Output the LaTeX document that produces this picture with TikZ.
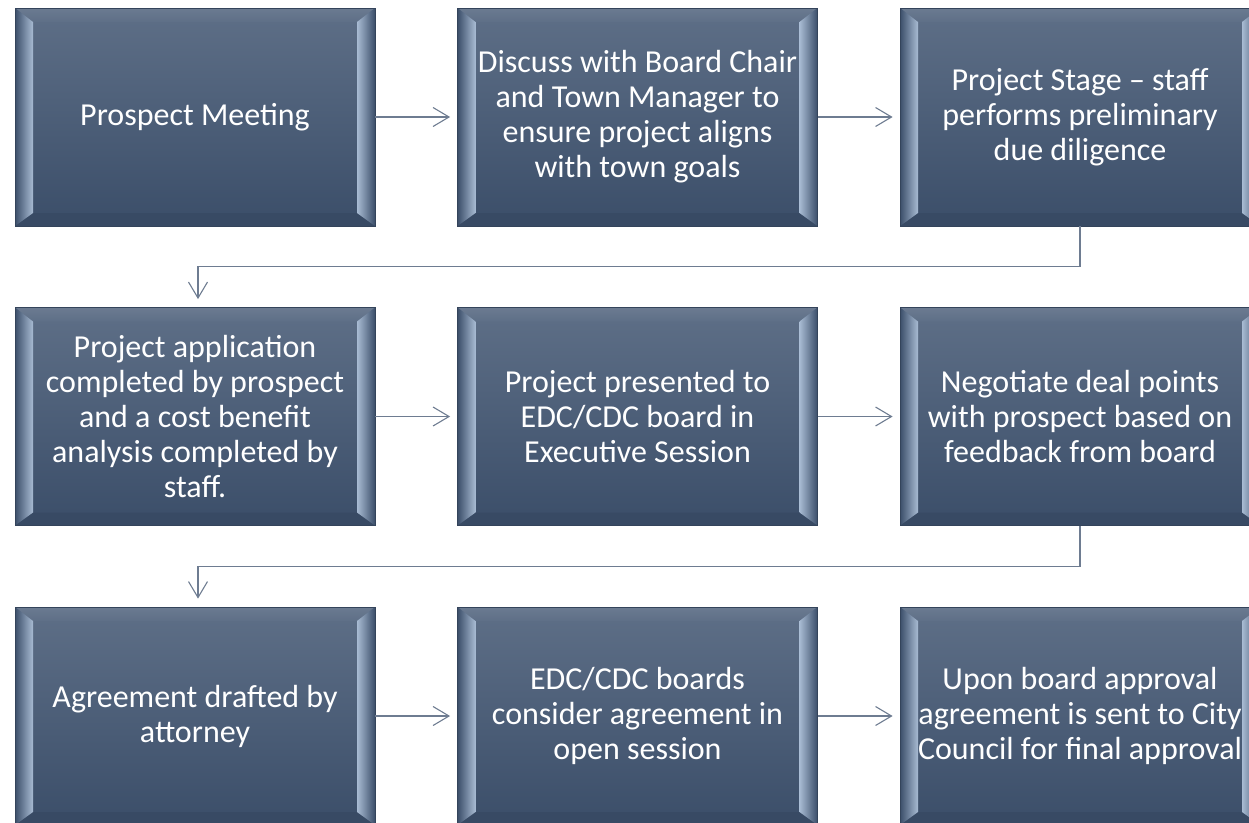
\documentclass[tikz,border=0pt]{standalone}
\usepackage{fontspec}
\setmainfont{Carlito}
\usetikzlibrary{arrows.meta,calc,positioning}
\definecolor{slatetop}{HTML}{5E6F87}
\definecolor{slatebot}{HTML}{3B4E69}
\definecolor{slateedge}{HTML}{34445B}
\definecolor{bevellight}{HTML}{A8BBD3}
\definecolor{linkgray}{HTML}{6E7C91}

\begin{document}
\begin{tikzpicture}[x=1pt,y=-1pt,>={Straight Barb[length=16pt,width=19pt]}]
\tikzset{stagebox/.style={rectangle, minimum width=360pt, minimum height=218pt,
    top color=slatetop, bottom color=slatebot, draw=slateedge, line width=0.8pt,
    text=white, align=center, font=\fontsize{32}{35}\selectfont,
    path picture={
      \coordinate (nw) at (path picture bounding box.north west);
      \coordinate (ne) at (path picture bounding box.north east);
      \coordinate (sw) at (path picture bounding box.south west);
      \coordinate (se) at (path picture bounding box.south east);
      \coordinate (inw) at ([xshift=18pt,yshift=-14pt]nw);
      \coordinate (ine) at ([xshift=-18pt,yshift=-14pt]ne);
      \coordinate (isw) at ([xshift=18pt,yshift=13pt]sw);
      \coordinate (ise) at ([xshift=-18pt,yshift=13pt]se);
      \shade[top color=slatetop!92!white, bottom color=slatetop] (nw) -- (ne) -- (ine) -- (inw) -- cycle;
      \fill[slatebot!95!black] (sw) -- (se) -- (ise) -- (isw) -- cycle;
      \shade[left color=slatebot, right color=bevellight] (nw) -- (inw) -- (isw) -- (sw) -- cycle;
      \shade[left color=bevellight, right color=slatebot] (ne) -- (ine) -- (ise) -- (se) -- cycle;
    }},
  link/.style={->, draw=linkgray, line width=1.1pt, shorten >=7pt}}
\useasboundingbox (0,0) rectangle (1249,822);
% First row
\node[stagebox] (meet) at (195,117) {Prospect Meeting};
\node[stagebox] (chair) at (637.5,117) {Discuss with Board Chair\\and Town Manager to\\ensure project aligns\\with town goals};
\node[stagebox] (stage) at (1080,117) {Project Stage -- staff\\performs preliminary\\due diligence};
% Second row
\node[stagebox] (apply) at (195,416.5) {Project application\\completed by prospect\\and a cost benefit\\analysis completed by\\staff.};
\node[stagebox] (present) at (637.5,416.5) {Project presented to\\EDC/CDC board in\\Executive Session};
\node[stagebox] (negotiate) at (1080,416.5) {Negotiate deal points\\with prospect based on\\feedback from board};
% Third row
\node[stagebox] (draft) at (195,716) {Agreement drafted by\\attorney};
\node[stagebox] (consider) at (637.5,716) {EDC/CDC boards\\consider agreement in\\open session};
\node[stagebox] (council) at (1080,716) {Upon board approval\\agreement is sent to City\\Council for final approval};
% Connectors
\foreach \a/\b in {meet/chair, chair/stage, apply/present, present/negotiate, draft/consider, consider/council}
  \draw[link] (\a) -- (\b);
\draw[link, shorten >=8pt] (stage.south) -- ++(0,40) -| ([xshift=3pt]apply.north);
\draw[link, shorten >=8pt] (negotiate.south) -- ++(0,41) -| ([xshift=3pt]draft.north);
\end{tikzpicture}
\end{document}
